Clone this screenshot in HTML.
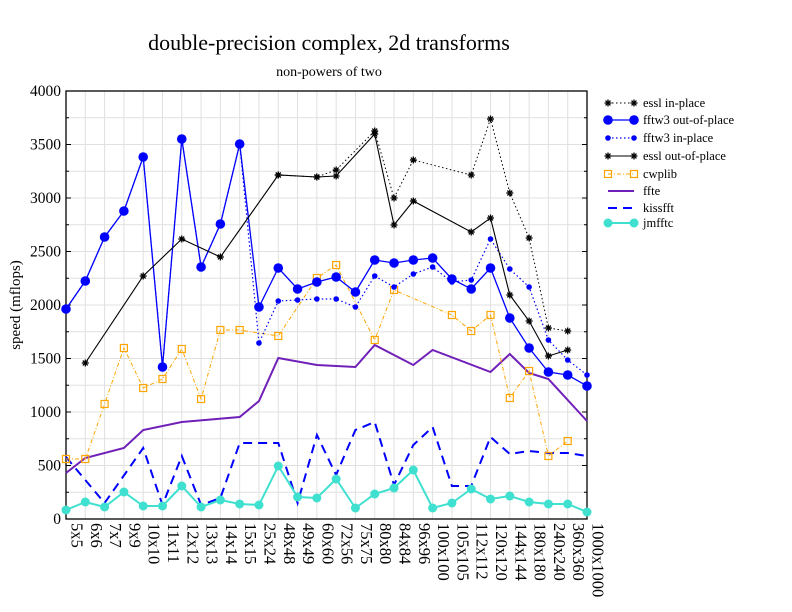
<!DOCTYPE html>
<html><head><meta charset="utf-8"><style>
html,body{margin:0;padding:0;background:#fff;}
svg{display:block;font-family:"Liberation Serif",serif;}
</style></head><body>
<svg id="s" width="792" height="612" xmlns="http://www.w3.org/2000/svg"></svg>
<script>
const s=document.getElementById('s');let h='';
const X=i=>66+i*(521/27);
const Y=v=>519-v*428/4000;
h+='<rect width="792" height="612" fill="#fff"/>';
for(let i=0;i<28;i++)h+=`<line x1="${X(i)}" y1="91" x2="${X(i)}" y2="519" stroke="#e0e0e0" stroke-width="1"/>`;
for(let v=0;v<=4000;v+=250){const y=Y(v);h+=`<line x1="66" y1="${y}" x2="587" y2="${y}" stroke="#e0e0e0" stroke-width="1"/>`;
 h+=`<line x1="66" y1="${y}" x2="${v%500?69:71}" y2="${y}" stroke="#000"/><line x1="587" y1="${y}" x2="${v%500?584:582}" y2="${y}" stroke="#000"/>`;
 if(v%500==0)h+=`<text x="61" y="${y+5}" font-size="15.5" text-anchor="end">${v}</text>`;}
h+='<rect x="66" y="91" width="521" height="428" fill="none" stroke="#000" stroke-width="1.3"/>';
const labs="5x5 6x6 7x7 9x9 10x10 11x11 12x12 13x13 14x14 15x15 25x24 48x48 49x49 60x60 72x56 75x75 80x80 84x84 96x96 100x100 105x105 112x112 120x120 144x144 180x180 240x240 360x360 1000x1000".split(' ');
labs.forEach((l,i)=>{h+=`<text transform="translate(${X(i)+5.5},523) rotate(90)" font-size="16.5">${l}</text>`;});
h+='<text x="329" y="50" font-size="22" text-anchor="middle">double-precision complex, 2d transforms</text>';
h+='<text x="329" y="76" font-size="14" text-anchor="middle">non-powers of two</text>';
h+='<text transform="translate(20,305) rotate(-90)" font-size="15" text-anchor="middle">speed (mflops)</text>';
function ast(x,y,c){let r='';for(let a=0;a<4;a++){const t=a*Math.PI/4,dx=3.5*Math.cos(t),dy=3.5*Math.sin(t);r+=`<line x1="${x-dx}" y1="${y-dy}" x2="${x+dx}" y2="${y+dy}" stroke="${c}" stroke-width="1.3"/>`;}return r;}
function mk(t,x,y,c){if(t=='ast')return ast(x,y,c);if(t=='big')return `<circle cx="${x}" cy="${y}" r="4.8" fill="${c}"/>`;if(t=='small')return `<circle cx="${x}" cy="${y}" r="2.8" fill="${c}"/>`;if(t=='sq')return `<rect x="${x-3.5}" y="${y-3.5}" width="7" height="7" fill="none" stroke="${c}" stroke-width="1.2"/>`;if(t=='teal')return `<circle cx="${x}" cy="${y}" r="4.5" fill="${c}"/>`;return '';}
const S=[
{c:'#000',w:1,d:'1.5,2.5',m:'ast',n:'essl in-place',p:[[11,175],[13,177],[14,170],[16,131],[17,198],[18,160],[21,175],[22,119],[23,193],[24,238],[25,328],[26,331]]},
{c:'#0000ff',w:1.3,d:'',m:'big',n:'fftw3 out-of-place',p:[[0,309],[1,281],[2,237],[3,211],[4,157],[5,367],[6,139],[7,267],[8,224],[9,144],[10,307],[11,268],[12,289],[13,282],[14,277],[15,292],[16,260],[17,263],[18,260],[19,258],[20,279],[21,289],[22,268],[23,318],[24,348],[25,372],[26,375],[27,386]]},
{c:'#0000ff',w:1.2,d:'1.5,2.5',m:'small',n:'fftw3 in-place',p:[[0,309],[1,281],[2,237],[3,211],[4,157],[5,367],[6,139],[7,267],[8,224],[9,144],[10,343],[11,301],[12,300],[13,299],[14,299],[15,307],[16,276],[17,287],[18,274],[19,267],[20,282],[21,280],[22,239],[23,269],[24,287],[25,340],[26,360],[27,375]]},
{c:'#000',w:1.1,d:'',m:'ast',n:'essl out-of-place',p:[[1,363],[4,276],[6,239],[8,257],[11,175],[13,177],[14,176],[16,134],[17,225],[18,201],[21,232],[22,218],[23,295],[24,321],[25,356],[26,350]]},
{c:'#ffa500',w:1,d:'4,2,1,2',m:'sq',n:'cwplib',p:[[0,459],[1,459],[2,404],[3,348],[4,388],[5,379],[6,349],[7,399],[8,330],[9,330],[11,336],[13,278],[14,265],[16,340],[17,290],[20,315],[21,331],[22,315],[23,398],[24,371],[25,456],[26,441]]},
{c:'#7020b8',w:2,d:'',m:'',n:'ffte',p:[[0,473],[1,458],[3,448],[4,430],[6,422],[9,417],[10,401],[11,358],[13,365],[15,367],[16,345],[18,365],[19,350],[22,372],[23,354],[24,373],[25,379],[27,421]]},
{c:'#0000ff',w:2,d:'9,6',m:'',n:'kissfft',p:[[0,457],[2,503],[4,448],[5,505],[6,456],[7,505],[8,498],[9,443],[10,443],[11,443],[12,503],[13,435],[14,475],[15,430],[16,422],[17,485],[18,445],[19,427],[20,486],[21,486],[22,437],[23,454],[24,451],[25,453],[26,453],[27,456]]},
{c:'#40e0d0',w:2,d:'',m:'teal',n:'jmfftc',p:[[0,510],[1,502],[2,507],[3,492],[4,506],[5,506],[6,486],[7,507],[8,500],[9,504],[10,505],[11,466],[12,497],[13,498],[14,479],[15,508],[16,494],[17,488],[18,470],[19,508],[20,503],[21,489],[22,499],[23,496],[24,502],[25,504],[26,504],[27,512]]}
];
const order=[5,6,4,7,2,1,3,0];
order.forEach(k=>{const q=S[k];const pts=q.p.map(a=>X(a[0]).toFixed(1)+','+a[1]).join(' ');
 h+=`<polyline points="${pts}" fill="none" stroke="${q.c}" stroke-width="${q.w}" ${q.d?`stroke-dasharray="${q.d}"`:''}/>`;
 q.p.forEach(a=>h+=mk(q.m,X(a[0]),a[1],q.c));});
const ly=[103,120,138,156,174,191,208,223];
S.forEach((q,i)=>{const y=ly[i];h+=`<line x1="608" y1="${y}" x2="634" y2="${y}" stroke="${q.c}" stroke-width="${q.w}" ${q.d?`stroke-dasharray="${q.d}"`:''}/>`;
 if(q.m){h+=mk(q.m,608,y,q.c)+mk(q.m,634,y,q.c);}
 h+=`<text x="643" y="${y+4}" font-size="12.5">${q.n}</text>`;});
s.innerHTML=h;
</script>
</body></html>
